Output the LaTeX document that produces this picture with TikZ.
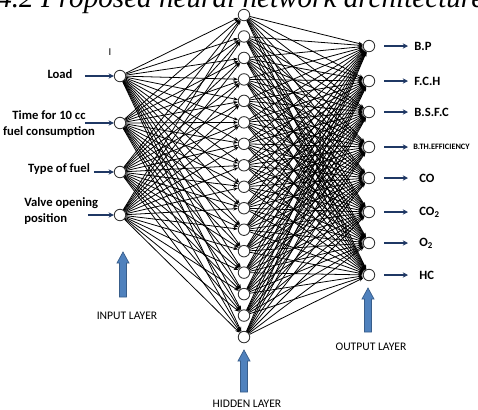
\documentclass[tikz,border=0pt]{standalone}
\usepackage{fontspec}
\setmainfont{Carlito}
\newfontfamily\titlefont{Liberation Serif}
\usetikzlibrary{arrows.meta}
\definecolor{navy}{HTML}{1F3864}
\definecolor{layerblue}{HTML}{4F81BD}
\definecolor{layeredge}{HTML}{385D8A}

\begin{document}
\begin{tikzpicture}[x=0.02cm, y=-0.02cm,
  neuron/.style = {draw=black!80, circle, fill=white, minimum size=0.23cm, inner sep=0pt, line width=0.5pt},
  lbl/.style = {font=\bfseries\fontsize{7.2}{9.6}\selectfont, inner sep=0pt},
  layer/.style = {font=\fontsize{6.6}{8}\selectfont, inner sep=0pt},
  link/.style = {line width=0.45pt, -{Stealth[length=2.6pt, width=2pt]}},
  feed/.style = {navy, line width=1pt, -{Stealth[length=3pt, width=3pt]}},
  bigarrow/.style = {draw=layeredge, fill=layerblue, line width=0.4pt}]
\useasboundingbox (0,0) rectangle (478,410);

\node[anchor=base west, font=\titlefont\itshape\fontsize{16.6}{16.6}\selectfont, inner sep=0pt] (title) at (-3,7) {4.2 Proposed neural network architecture};

\node[neuron] (i1) at (120,76) {};
\node[neuron] (i2) at (120,123) {};
\node[neuron] (i3) at (120,172) {};
\node[neuron] (i4) at (120,215) {};
\foreach \k in {1,...,16} \node[neuron] (h\k) at (244,{15+(\k-1)*21.47}) {};
\foreach \y [count=\k] in {46,81,112,147,178,212,243,275} \node[neuron] (o\k) at (369,\y) {};

\foreach \a in {1,...,4} \foreach \b in {1,...,16} \draw[link] (i\a) -- (h\b);
\foreach \b in {1,...,16} \foreach \c in {1,...,8} \draw[link] (h\b) -- (o\c);

\node (mark) at (110,52) {\fontsize{6}{6}\selectfont I};
\node[lbl] (load) at (60,74) {Load};
\node[lbl, align=center] (time) at (49,124) {Time for 10 cc\\fuel consumption};
\node[lbl] (type) at (59,169) {Type of fuel};
\node[lbl, align=left, anchor=west] (valve) at (24,211) {Valve opening\\position};

\coordinate (f1) at (85,76);
\coordinate (f2) at (85,123);
\coordinate (f3) at (94,172);
\coordinate (f4) at (88,215);
\foreach \k in {1,...,4} \draw[feed] (f\k) -- (i\k);

\foreach \y [count=\k] in {46,81,112,147,178,212,243,275} {
  \coordinate (t\k) at (408,\y);
  \draw[feed, shorten <=0.18cm] (o\k) -- (t\k);
}
\node[lbl, anchor=west] (r1) at (414,46) {B.P};
\node[lbl, anchor=west] (r2) at (414,81) {F.C.H};
\node[lbl, anchor=west] (r3) at (414,112) {B.S.F.C};
\node[lbl, anchor=west, font=\bfseries\fontsize{4.7}{5}\selectfont] (r4) at (413,147) {B.TH.EFFICIENCY};
\node[lbl, anchor=west] (r5) at (419,178) {CO};
\node[lbl, anchor=west] (r6) at (419,212) {CO\textsubscript{2}};
\node[lbl, anchor=west] (r7) at (419,243) {O\textsubscript{2}};
\node[lbl, anchor=west] (r8) at (419,275) {HC};

\draw[bigarrow, shift={(123,297)}] (-3.5,0) -- (-3.5,-34) -- (-6,-34) -- (0,-45) -- (6,-34) -- (3.5,-34) -- (3.5,0) -- cycle;
\draw[bigarrow, shift={(244,392)}] (-3.5,0) -- (-3.5,-31) -- (-6,-31) -- (0,-42) -- (6,-31) -- (3.5,-31) -- (3.5,0) -- cycle;
\draw[bigarrow, shift={(368,332)}] (-3.5,0) -- (-3.5,-33) -- (-6,-33) -- (0,-44) -- (6,-33) -- (3.5,-33) -- (3.5,0) -- cycle;

\node[layer] (inlayer) at (127,316) {INPUT LAYER};
\node[layer] (hidlayer) at (247,404) {HIDDEN LAYER};
\node[layer] (outlayer) at (371,347) {OUTPUT LAYER};
\end{tikzpicture}
\end{document}
